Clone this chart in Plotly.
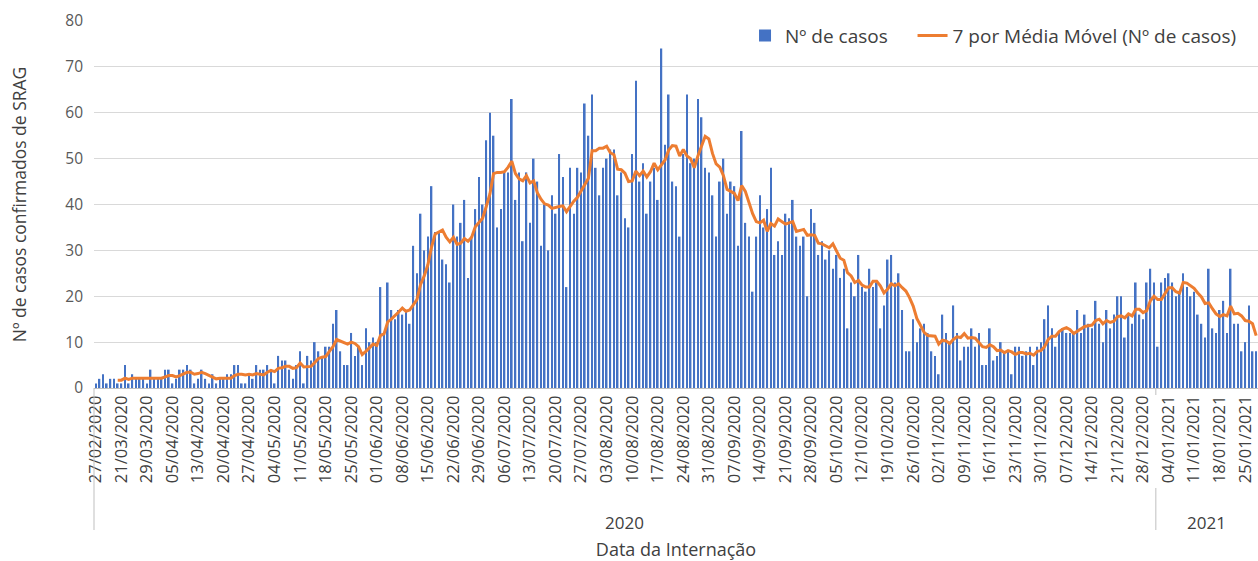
import plotly.graph_objects as go
import pandas as pd

rotulos_data = ["27/02/2020", "21/03/2020", "29/03/2020", "05/04/2020", "13/04/2020", "20/04/2020",
                "27/04/2020", "04/05/2020", "11/05/2020", "18/05/2020", "25/05/2020", "01/06/2020",
                "08/06/2020", "15/06/2020", "22/06/2020", "29/06/2020", "06/07/2020", "13/07/2020",
                "20/07/2020", "27/07/2020", "03/08/2020", "10/08/2020", "17/08/2020", "24/08/2020",
                "31/08/2020", "07/09/2020", "14/09/2020", "21/09/2020", "28/09/2020", "05/10/2020",
                "12/10/2020", "19/10/2020", "26/10/2020", "02/11/2020", "09/11/2020", "16/11/2020",
                "23/11/2020", "30/11/2020", "07/12/2020", "14/12/2020", "21/12/2020", "28/12/2020",
                "04/01/2021", "11/01/2021", "18/01/2021", "25/01/2021"]

casos = [
    1, 2, 3, 1, 2, 2, 1, 1, 5, 1,
    3, 2, 2, 2, 1, 4, 2, 2, 2, 4,
    4, 1, 2, 4, 4, 5, 4, 1, 2, 4,
    2, 1, 3, 1, 2, 2, 3, 3, 5, 5,
    1, 1, 3, 2, 5, 4, 4, 5, 4, 1,
    7, 6, 6, 4, 2, 5, 8, 1, 7, 6,
    10, 8, 7, 9, 9, 14, 17, 8, 5, 5,
    12, 7, 9, 5, 13, 10, 11, 10, 22, 12,
    23, 17, 15, 17, 16, 17, 14, 31, 25, 38,
    30, 33, 44, 34, 34, 28, 27, 23, 40, 33,
    36, 41, 24, 33, 39, 46, 40, 54, 60, 55,
    35, 39, 47, 47, 63, 41, 47, 32, 47, 36,
    50, 45, 31, 40, 30, 42, 38, 51, 46, 22,
    48, 38, 48, 47, 62, 55, 64, 48, 42, 48,
    50, 52, 52, 42, 47, 37, 35, 51, 67, 45,
    49, 38, 45, 48, 41, 74, 53, 64, 45, 44,
    33, 51, 64, 49, 50, 63, 59, 48, 47, 42,
    33, 45, 50, 38, 45, 44, 31, 56, 36, 33,
    21, 33, 42, 35, 39, 48, 29, 32, 29, 38,
    37, 41, 33, 31, 33, 20, 39, 36, 29, 32,
    28, 30, 26, 29, 24, 26, 13, 23, 20, 29,
    22, 21, 26, 22, 23, 13, 18, 28, 29, 23,
    25, 17, 8, 8, 15, 10, 13, 14, 12, 8,
    7, 3, 16, 12, 10, 18, 12, 6, 9, 9,
    13, 9, 12, 5, 5, 13, 6, 7, 10, 8,
    8, 3, 9, 9, 7, 8, 9, 5, 9, 10,
    15, 18, 13, 9, 12, 13, 12, 12, 12, 17,
    12, 16, 14, 13, 19, 14, 10, 17, 13, 16,
    20, 20, 11, 16, 14, 23, 16, 15, 23, 26,
    23, 9, 23, 24, 25, 23, 20, 21, 25, 22,
    20, 21, 16, 14, 11, 26, 13, 12, 17, 19,
    12, 26, 14, 14, 8, 10, 18, 8, 8,
]

anos = ["2020", "2021"]
inicio_2021 = 291  # first category of 2021 (01/01/2021)

n = len(casos)
idx = list(range(n))
media_movel = pd.Series(casos, dtype=float).rolling(7).mean()

FONT = "Open Sans, Noto Sans, sans-serif"
TXT = "#404040"
AXIS = "#BFBFBF"
NBSP = "\u00a0"

fig = go.Figure()
fig.add_trace(go.Bar(x=idx, y=casos, name="Nº de casos" + NBSP * 4,
                     marker=dict(color="#4472C4", line=dict(width=0))))
fig.add_trace(go.Scatter(x=idx, y=media_movel, mode="lines",
                         name="7 por Média Móvel (Nº de casos)",
                         line=dict(color="#ED7D31", width=3)))

H_PLOT = 561 - 21 - 173


def py(pix):
    """pixels below the x axis -> paper coordinate"""
    return -pix / H_PLOT


sep = inicio_2021 - 0.5
fig.update_layout(
    width=1258, height=561,
    margin=dict(l=94, r=0, t=21, b=173),
    plot_bgcolor="white", paper_bgcolor="white",
    font=dict(family=FONT, color=TXT),
    bargap=0.55,
    showlegend=True,
    legend=dict(orientation="h", x=0.5593, xanchor="left", y=0.96, yanchor="middle",
                font=dict(size=19, color=TXT),
                bgcolor="rgba(0,0,0,0)", traceorder="normal"),
    xaxis=dict(range=[-0.5, n - 0.5], tickmode="array", tickvals=list(range(0, n, 7))[:len(rotulos_data)],
               ticktext=rotulos_data, tickangle=-90, tickfont=dict(size=16.5, color=TXT),
               showgrid=False, zeroline=False, showline=True, linecolor=AXIS, linewidth=1,
               ticks="", title=dict(text="Data da Internação", font=dict(size=18, color=TXT), standoff=64)),
    yaxis=dict(range=[0, 80], dtick=10, showgrid=True, gridcolor="#D9D9D9", gridwidth=1,
               zeroline=False, showline=False, ticks="", ticklabelstandoff=10,
               tickfont=dict(size=15.5, color="#595959"),
               title=dict(text="Nº de casos confirmados de SRAG", font=dict(size=17.5, color=TXT), standoff=34)),
    shapes=[
        dict(type="line", xref="paper", yref="paper", x0=0, x1=0, y0=0, y1=py(142),
             line=dict(color=AXIS, width=1)),
        dict(type="line", xref="x", yref="paper", x0=sep, x1=sep, y0=0, y1=py(7),
             line=dict(color=AXIS, width=1)),
        dict(type="line", xref="x", yref="paper", x0=sep, x1=sep, y0=py(100), y1=py(142),
             line=dict(color=AXIS, width=1)),
    ],
    annotations=[
        dict(text=anos[0], x=(-0.5 + sep) / 2, xref="x", y=py(134), yref="paper",
             showarrow=False, font=dict(size=17, color=TXT), yanchor="middle"),
        dict(text=anos[1], x=(sep + n - 0.5) / 2, xref="x", y=py(134), yref="paper",
             showarrow=False, font=dict(size=17, color=TXT), yanchor="middle"),
    ],
)

fig.write_html("out.html", config={"displayModeBar": False},
               post_script="document.body.style.margin='0';")
